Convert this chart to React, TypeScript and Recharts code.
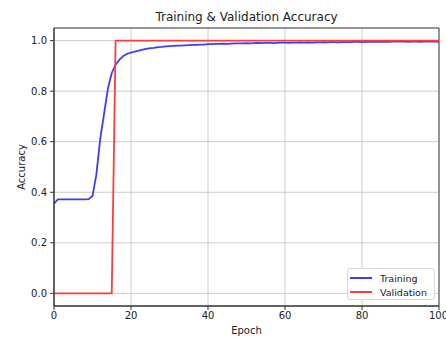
import { CartesianGrid, Line, LineChart, ReferenceArea, XAxis, YAxis } from "recharts";

const TRAINING = [
  0.355, 0.372, 0.372, 0.372, 0.372, 0.372, 0.372, 0.372, 0.372, 0.373,
  0.385, 0.47, 0.61, 0.71, 0.81, 0.872, 0.905, 0.925, 0.939, 0.948,
  0.953, 0.957, 0.960, 0.964, 0.967, 0.970, 0.971, 0.974, 0.975, 0.977,
  0.978, 0.979, 0.980, 0.980, 0.981, 0.982, 0.983, 0.983, 0.984, 0.984,
  0.986, 0.986, 0.987, 0.987, 0.988, 0.987, 0.988, 0.989, 0.989, 0.989,
  0.990, 0.989, 0.990, 0.991, 0.990, 0.991, 0.991, 0.990, 0.991, 0.992,
  0.992, 0.991, 0.992, 0.992, 0.993, 0.992, 0.993, 0.992, 0.993, 0.993,
  0.994, 0.993, 0.994, 0.994, 0.993, 0.994, 0.994, 0.994, 0.995, 0.995,
  0.994, 0.995, 0.995, 0.995, 0.996, 0.995, 0.996, 0.995, 0.996, 0.996,
  0.996, 0.996, 0.995, 0.996, 0.996, 0.995, 0.996, 0.996, 0.997, 0.996,
  0.995,
];

const VALIDATION = [
  0, 0, 0, 0, 0, 0, 0, 0, 0, 0,
  0, 0, 0, 0, 0, 0, 1, 1, 1, 1,
  1, 1, 1, 1, 1, 1, 1, 1, 1, 1,
  1, 1, 1, 1, 1, 1, 1, 1, 1, 1,
  1, 1, 1, 1, 1, 1, 1, 1, 1, 1,
  1, 1, 1, 1, 1, 1, 1, 1, 1, 1,
  1, 1, 1, 1, 1, 1, 1, 1, 1, 1,
  1, 1, 1, 1, 1, 1, 1, 1, 1, 1,
  1, 1, 1, 1, 1, 1, 1, 1, 1, 1,
  1, 1, 1, 1, 1, 1, 1, 1, 1, 1,
  1,
];

const X_TICKS = [0, 20, 40, 60, 80, 100];
const Y_TICKS = [0, 0.2, 0.4, 0.6, 0.8, 1.0];
const SERIES_NAMES = ["Training", "Validation"];

const BLUE = "#3c3cff";
const RED = "#ff3c3c";
const FONT = "DejaVu Sans";

const data = TRAINING.map((t, i) => ({ epoch: i, training: t, validation: VALIDATION[i] }));

function LegendBox() {
  const colors = [BLUE, RED];
  return (
    <div
      style={{
        position: "absolute",
        left: 347,
        top: 268,
        width: 88,
        height: 32,
        boxSizing: "border-box",
        border: "1px solid #d8d8d8",
        borderRadius: 3,
        background: "rgba(255,255,255,0.85)",
        fontFamily: FONT,
        fontSize: 9.5,
        color: "#222",
        padding: "2px 0 0 2px",
      }}
    >
      {SERIES_NAMES.map((name, i) => (
        <div key={name} style={{ display: "flex", alignItems: "center", height: 14 }}>
          <span style={{ display: "inline-block", width: 22, height: 2, background: colors[i], marginRight: 8 }} />
          <span>{name}</span>
        </div>
      ))}
    </div>
  );
}

export default function App() {
  return (
    <div style={{ position: "absolute", left: 0, top: 0, width: 446, height: 337, background: "#fff" }}>
      <LineChart width={446} height={337} data={data} margin={{ top: 28, right: 7, bottom: 0, left: 0 }}>
        <CartesianGrid stroke="#cccccc" strokeWidth={1} />
        <XAxis
          dataKey="epoch"
          type="number"
          domain={[0, 100]}
          ticks={X_TICKS}
          height={31}
          tickSize={4}
          tickMargin={2}
          stroke="#333"
          tick={{ fontSize: 10, fill: "#222", fontFamily: FONT }}
        />
        <YAxis
          type="number"
          domain={[-0.05, 1.05]}
          ticks={Y_TICKS}
          width={54}
          tickSize={4}
          tickMargin={3}
          stroke="#333"
          tickFormatter={(v: number) => v.toFixed(1)}
          tick={{ fontSize: 10, fill: "#222", fontFamily: FONT }}
        />
        <ReferenceArea x1={0} x2={100} y1={-0.05} y2={1.05} fill="none" stroke="#444" strokeWidth={1} />
        <Line
          dataKey="training"
          name={SERIES_NAMES[0]}
          stroke={BLUE}
          strokeWidth={1.8}
          dot={false}
          type="linear"
          isAnimationActive={false}
        />
        <Line
          dataKey="validation"
          name={SERIES_NAMES[1]}
          stroke={RED}
          strokeWidth={1.8}
          dot={false}
          type="linear"
          isAnimationActive={false}
        />
        <text x={246.5} y={21} textAnchor="middle" fontSize={12} fontFamily={FONT} fill="#222">
          Training &amp; Validation Accuracy
        </text>
        <text
          transform="translate(21,167) rotate(-90)"
          textAnchor="middle"
          dominantBaseline="central"
          fontSize={10}
          fontFamily={FONT}
          fill="#222"
        >
          Accuracy
        </text>
        <text x={246.5} y={334} textAnchor="middle" fontSize={10} fontFamily={FONT} fill="#222">
          Epoch
        </text>
      </LineChart>
      <LegendBox />
    </div>
  );
}
